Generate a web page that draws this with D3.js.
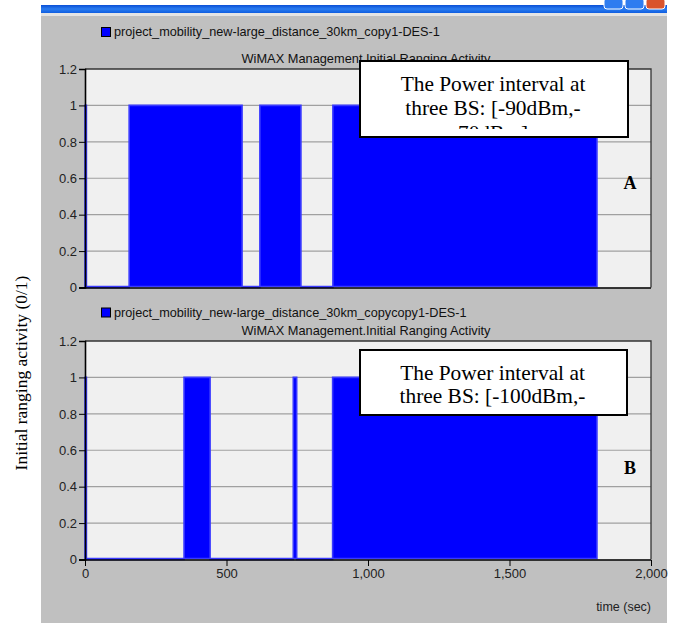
<!DOCTYPE html>
<html><head><meta charset="utf-8">
<script src="https://cdn.jsdelivr.net/npm/d3@7"></script>
<style>body{margin:0;background:#fff}svg{display:block}</style>
</head><body>
<script>
// ---- data ----
const legendTop = "project_mobility_new-large_distance_30km_copy1-DES-1";
const legendBottom = "project_mobility_new-large_distance_30km_copycopy1-DES-1";
const chartTitle = "WiMAX Management.Initial Ranging Activity";
const timesA = [0, 5, 156, 555, 618, 763, 876, 1809];
const valuesA = [1, 0, 1, 0, 1, 0, 1, 1];
const timesB = [0, 5, 350, 442, 736, 748, 875, 1809];
const valuesB = [1, 0, 1, 0, 1, 0, 1, 1];
const yTicks = [0, 0.2, 0.4, 0.6, 0.8, 1, 1.2];
const yTickLabels = ["0", "0.2", "0.4", "0.6", "0.8", "1", "1.2"];
const xTicks = [0, 500, 1000, 1500, 2000];
const xTickLabels = ["0", "500", "1,000", "1,500", "2,000"];
const boxTextA = ["The Power interval at", "three BS: [-90dBm,-", "70dBm]"];
const boxTextB = ["The Power interval at", "three BS: [-100dBm,-", "80dBm]"];
const panelLabels = ["A", "B"];
const yAxisTitle = "Initial ranging activity (0/1)";
const xAxisTitle = "time (sec)";

const W = 673, H = 623;
const svg = d3.select("body").append("svg").attr("width", W).attr("height", H);
const defs = svg.append("defs");
const grad = defs.append("linearGradient").attr("id", "tb").attr("x1", 0).attr("x2", 0).attr("y1", 0).attr("y2", 1);
grad.append("stop").attr("offset", 0).attr("stop-color", "#0a4fd6");
grad.append("stop").attr("offset", 0.5).attr("stop-color", "#2a7cf0");
grad.append("stop").attr("offset", 1).attr("stop-color", "#0f5ee0");

// window frame
svg.append("rect").attr("x", 41).attr("y", 5).attr("width", 626).attr("height", 8).attr("fill", "url(#tb)");
svg.append("rect").attr("x", 41).attr("y", 13).attr("width", 626).attr("height", 3).attr("fill", "#e4e4e4");
svg.append("rect").attr("x", 41).attr("y", 16).attr("width", 626).attr("height", H - 16).attr("fill", "#c0c0c0");
// window buttons
[604, 625].forEach(bx => svg.append("rect").attr("x", bx).attr("y", -2).attr("width", 19).attr("height", 11).attr("rx", 3)
  .attr("fill", "#2f7cf0").attr("stroke", "#fff").attr("stroke-width", 1));
svg.append("rect").attr("x", 646).attr("y", -2).attr("width", 19).attr("height", 11).attr("rx", 3)
  .attr("fill", "#d9532c").attr("stroke", "#fff").attr("stroke-width", 1);

const x = d3.scaleLinear().domain([0, 2000]).range([85, 651]);

function panel(cfg) {
  const y = d3.scaleLinear().domain([0, 1.2]).range([cfg.y0, cfg.y12]);
  const g = svg.append("g");
  // legend
  g.append("rect").attr("x", 101.5).attr("y", cfg.legY - 8.5).attr("width", 9).attr("height", 9)
    .attr("fill", "#0000ff").attr("stroke", "#000").attr("stroke-width", 1);
  g.append("text").attr("x", 114).attr("y", cfg.legY).text(cfg.legend)
    .attr("font-family", "Liberation Sans, Arial").attr("font-size", 12.7).attr("fill", "#111");
  // title
  g.append("text").attr("x", 366).attr("y", cfg.y12 - 6).attr("text-anchor", "middle").text(chartTitle)
    .attr("font-family", "Liberation Sans, Arial").attr("font-size", 12.8).attr("fill", "#111");
  // plot bg
  g.append("rect").attr("x", x(0)).attr("y", y(1.2)).attr("width", x(2000) - x(0)).attr("height", y(0) - y(1.2))
    .attr("fill", "#f0f0f0");
  // grid
  g.selectAll(".grid").data(yTicks.filter(d => d > 0 && d < 1.2)).join("line")
    .attr("x1", x(0)).attr("x2", x(2000)).attr("y1", d => y(d)).attr("y2", d => y(d))
    .attr("stroke", "#a0a0a0").attr("stroke-width", 1.2);
  // data
  const pts = cfg.times.map((t, i) => [t, cfg.values[i]]);
  const area = d3.area().curve(d3.curveStepAfter).x(d => x(d[0])).y0(y(0) - 1).y1(d => y(d[1]));
  g.append("path").datum(pts).attr("d", area).attr("fill", "#0000ff")
    .attr("stroke", "#3a3aff").attr("stroke-width", 1.6).attr("stroke-linejoin", "miter");
  // frame top/right
  g.append("path").attr("d", `M${x(0)},${y(1.2)}H${x(2000)}V${y(0)}`).attr("fill", "none")
    .attr("stroke", "#333").attr("stroke-width", 1.3);
  // y axis
  const ya = d3.axisLeft(y).tickValues(yTicks).tickFormat((d, i) => yTickLabels[i]).tickSize(6).tickPadding(2);
  const yg = g.append("g").attr("transform", `translate(${x(0)},0)`).call(ya);
  yg.select(".domain").attr("stroke", "#000").attr("stroke-width", 1.6);
  yg.selectAll("text").attr("font-family", "Liberation Sans, Arial").attr("font-size", 13).attr("fill", "#222");
  // x axis line
  g.append("line").attr("x1", x(0) - 6).attr("x2", x(2000)).attr("y1", y(0) + 0.5).attr("y2", y(0) + 0.5)
    .attr("stroke", "#000").attr("stroke-width", 1.6);
  if (cfg.xAxis) {
    const xa = d3.axisBottom(x).tickValues(xTicks).tickFormat((d, i) => xTickLabels[i]).tickSize(6).tickPadding(3);
    const xg = g.append("g").attr("transform", `translate(0,${y(0) + 0.5})`).call(xa);
    xg.select(".domain").remove();
    xg.selectAll("text").attr("font-family", "Liberation Sans, Arial").attr("font-size", 13).attr("fill", "#222");
  }
  // annotation box
  const bx = g.append("g");
  bx.append("clipPath").attr("id", "clip" + cfg.label).append("rect")
    .attr("x", cfg.box[0]).attr("y", cfg.box[1]).attr("width", cfg.box[2]).attr("height", cfg.clipH);
  bx.append("rect").attr("x", cfg.box[0]).attr("y", cfg.box[1]).attr("width", cfg.box[2]).attr("height", cfg.box[3])
    .attr("fill", "#fff");
  bx.append("g").attr("clip-path", `url(#clip${cfg.label})`).selectAll("text").data(cfg.boxText).join("text")
    .attr("x", cfg.box[0] + cfg.box[2] / 2 - 1).attr("y", (d, i) => cfg.box[1] + cfg.firstBase + i * cfg.lineH)
    .attr("text-anchor", "middle").attr("font-family", "Liberation Serif, Times New Roman").attr("font-size", 21.4)
    .attr("fill", "#000").text(d => d);
  bx.append("rect").attr("x", cfg.box[0]).attr("y", cfg.box[1]).attr("width", cfg.box[2]).attr("height", cfg.box[3])
    .attr("fill", "none").attr("stroke", "#000").attr("stroke-width", 2);
  // panel label
  g.append("text").attr("x", 630).attr("y", cfg.labY).attr("text-anchor", "middle").text(cfg.label)
    .attr("font-family", "Liberation Serif, Times New Roman").attr("font-weight", "bold").attr("font-size", 18);
}

panel({legend: legendTop, legY: 36, y0: 287.5, y12: 69, times: timesA, values: valuesA, xAxis: false,
  box: [360, 61, 268, 76], clipH: 68, boxText: boxTextA, firstBase: 29.5, lineH: 24.5, label: panelLabels[0], labY: 189});
panel({legend: legendBottom, legY: 316.5, y0: 559.5, y12: 341, times: timesB, values: valuesB, xAxis: true,
  box: [360, 350, 267, 65], clipH: 57, boxText: boxTextB, firstBase: 30, lineH: 23, label: panelLabels[1], labY: 474});

svg.append("text").attr("x", 651).attr("y", 611).attr("text-anchor", "end").text(xAxisTitle)
  .attr("font-family", "Liberation Sans, Arial").attr("font-size", 12.5).attr("fill", "#222");
svg.append("text").attr("transform", "translate(27,373) rotate(-90)").attr("text-anchor", "middle").text(yAxisTitle)
  .attr("font-family", "Liberation Serif, Times New Roman").attr("font-size", 17.5).attr("fill", "#000");
</script>
</body></html>
